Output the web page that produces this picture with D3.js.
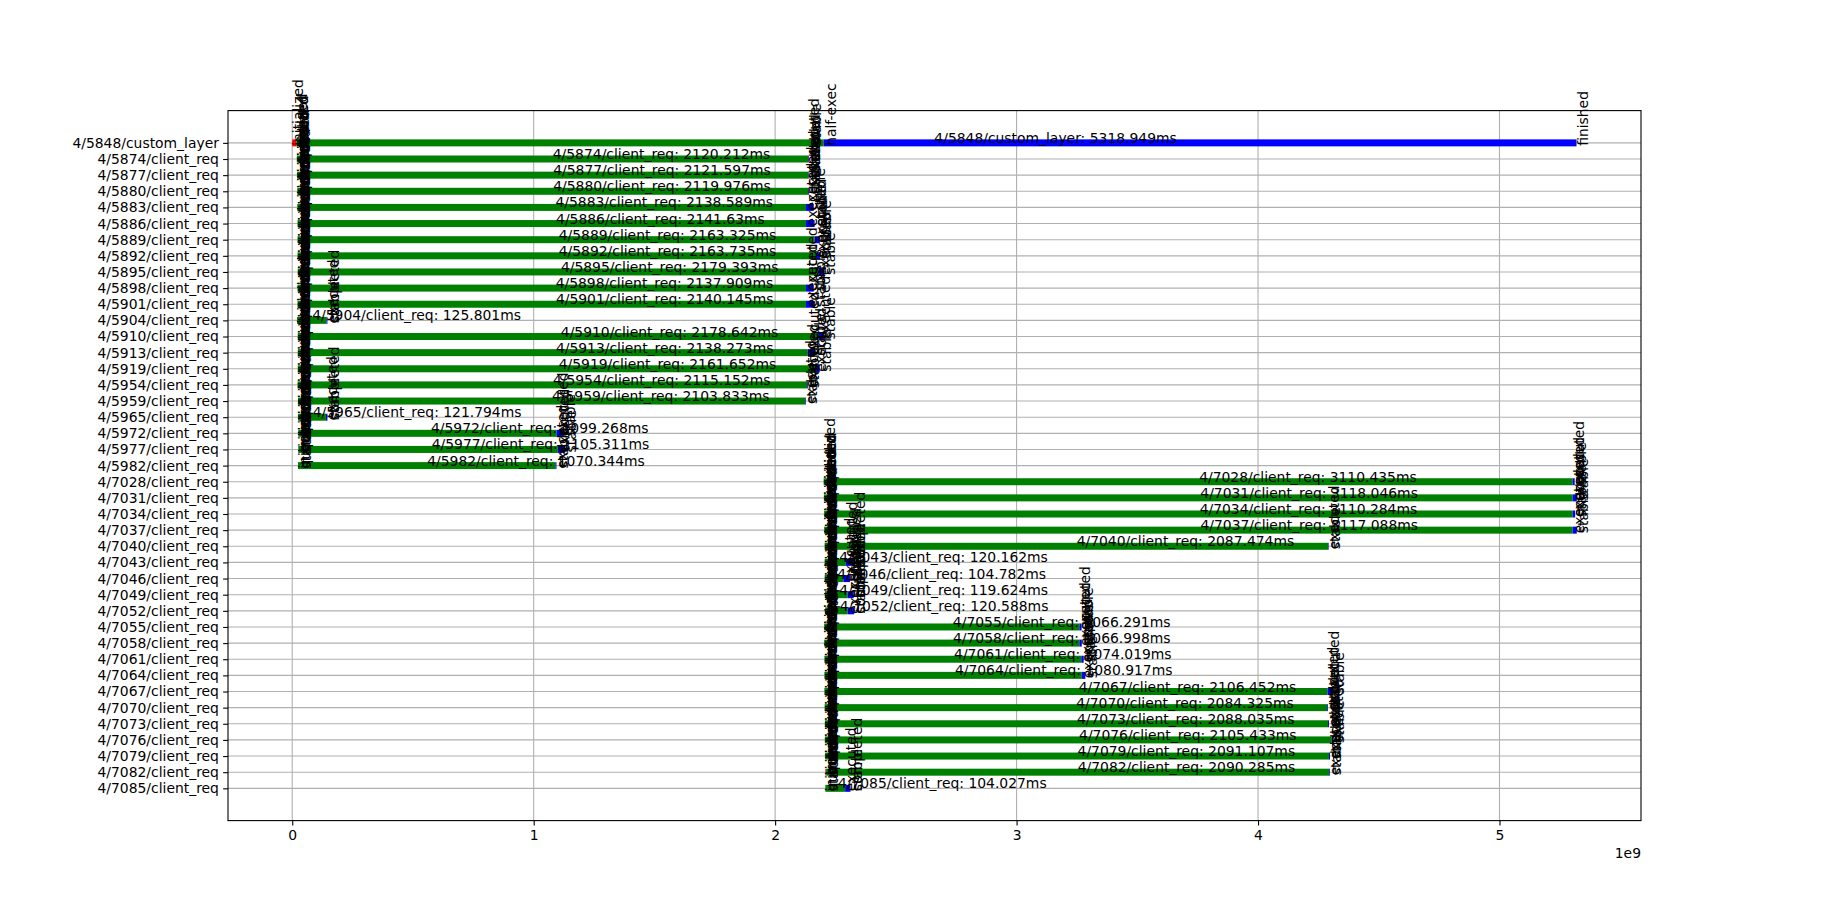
<!DOCTYPE html>
<html><head><meta charset="utf-8">
<script src="https://cdn.jsdelivr.net/npm/d3@7"></script>
<style>
body{margin:0;background:#fff}
text{font-family:"DejaVu Sans",sans-serif;font-size:13.9px;fill:#000}
</style>
</head><body>
<svg id="chart" width="1823" height="922"></svg>
<script>
// ---- data (times in ms) ----
const rowNames = ["4/5848/custom_layer","4/5874/client_req","4/5877/client_req","4/5880/client_req","4/5883/client_req","4/5886/client_req","4/5889/client_req","4/5892/client_req","4/5895/client_req","4/5898/client_req","4/5901/client_req","4/5904/client_req","4/5910/client_req","4/5913/client_req","4/5919/client_req","4/5954/client_req","4/5959/client_req","4/5965/client_req","4/5972/client_req","4/5977/client_req","4/5982/client_req","4/7028/client_req","4/7031/client_req","4/7034/client_req","4/7037/client_req","4/7040/client_req","4/7043/client_req","4/7046/client_req","4/7049/client_req","4/7052/client_req","4/7055/client_req","4/7058/client_req","4/7061/client_req","4/7064/client_req","4/7067/client_req","4/7070/client_req","4/7073/client_req","4/7076/client_req","4/7079/client_req","4/7082/client_req","4/7085/client_req"];
const startMs = [0,19,20,21,21,22,22,22,23,22,22,20,23,23,23,22,24,24,25,25,24,2201,2202,2203,2203,2205,2205,2205,2206,2207,2203,2203,2204,2204,2204,2205,2206,2206,2207,2208,2208];
const queuedEndMs = [17,19,20,21,21,22,22,22,23,22,22,20,23,23,23,22,24,24,25,25,24,2201,2202,2203,2203,2205,2205,2205,2206,2207,2203,2203,2204,2204,2204,2205,2206,2206,2207,2211,2208];
const executedMs = [2201,2136,2138,2137,2128,2128,2163,2170,2180,2128,2128,142,2180,2135,2165,2133,2125,140,1095,1100,1090,5303,5303,5303,5303,4290,2293,2283,2300,2300,3260,3260,3268,3270,4288,4286,4290,4305,4294,4295,2290];
const durationMs = [5318.949,2120.212,2121.597,2119.976,2138.589,2141.63,2163.325,2163.735,2179.393,2137.909,2140.145,125.801,2178.642,2138.273,2161.652,2115.152,2103.833,121.794,1099.268,1105.311,1070.344,3110.435,3118.046,3110.284,3117.088,2087.474,120.162,104.782,119.624,120.588,1066.291,1066.998,1074.019,1080.917,2106.452,2084.325,2088.035,2105.433,2091.107,2090.285,104.027];
const startLabels = ["initialized","queued","started"];
const startLabelOffsetsMs = [0,3,6];
const customLayerEvents = [[0,"initialized"],[17,"queued"],[20,"started"],[2143,"stable"],[2207,"half-exec"],[5318.949,"finished"]];
const xTickValues = [0,1e9,2e9,3e9,4e9,5e9];
const xOffsetLabel = "1e9";
const phaseColors = {queued:"#ff0000",running:"#008000",executed:"#0000ff"};

// ---- layout ----
const svg = d3.select("#chart");
const M = {left:228, right:1641, top:110.6, bottom:820.6};
const endMs = startMs.map((s,i)=>s+durationMs[i]);
const lo = d3.min(startMs), hi = d3.max(endMs), pad = (hi-lo)*0.05;
const x = d3.scaleLinear().domain([(lo-pad)*1e6,(hi+pad)*1e6]).range([M.left,M.right]);
const n = rowNames.length;
const y = d3.scaleLinear().domain([-2,(n-1)+2]).range([M.top,M.bottom]);
const rows = d3.range(n);

svg.append("rect").attr("width",1823).attr("height",922).attr("fill","#fff");

// grid
const grid = svg.append("g").attr("stroke","#b0b0b0").attr("stroke-width",1.1);
grid.selectAll(".vx").data(xTickValues).join("line")
  .attr("x1",d=>x(d)).attr("x2",d=>x(d)).attr("y1",M.top).attr("y2",M.bottom);
grid.selectAll(".hy").data(rows).join("line")
  .attr("x1",M.left).attr("x2",M.right).attr("y1",d=>y(d)).attr("y2",d=>y(d));

// segments
const segs = [];
rows.forEach(i=>{
  const s=startMs[i]*1e6, q=queuedEndMs[i]*1e6, e=executedMs[i]*1e6, f=endMs[i]*1e6;
  if(q>s) segs.push({i,a:s,b:q,c:phaseColors.queued});
  segs.push({i,a:q,b:e,c:phaseColors.running});
  if(f>e) segs.push({i,a:e,b:f,c:phaseColors.executed});
});
svg.append("g").selectAll("rect").data(segs).join("rect")
  .attr("x",d=>x(d.a)).attr("width",d=>Math.max(0,x(d.b)-x(d.a)))
  .attr("y",d=>y(d.i)-3.5).attr("height",7).attr("fill",d=>d.c);

// axes frame
svg.append("rect").attr("x",M.left).attr("y",M.top).attr("width",M.right-M.left).attr("height",M.bottom-M.top)
  .attr("fill","none").attr("stroke","#000").attr("stroke-width",1.1);

const xa = svg.append("g").attr("transform",`translate(0,${M.bottom})`)
  .call(d3.axisBottom(x).tickValues(xTickValues).tickFormat(d=>d/1e9).tickSize(4.9).tickPadding(4.6));
const ya = svg.append("g").attr("transform",`translate(${M.left},0)`)
  .call(d3.axisLeft(y).tickValues(rows).tickFormat(i=>rowNames[i]).tickSize(4.9).tickPadding(4.2));
[xa,ya].forEach(a=>{
  a.select(".domain").remove();
  a.selectAll("line").attr("stroke","#000").attr("stroke-width",1.1);
  a.selectAll("text").attr("font-family","DejaVu Sans").attr("font-size","13.9px").attr("fill","#000");
});
svg.append("text").attr("x",M.right).attr("y",858).attr("text-anchor","end").text(xOffsetLabel);

// event labels (vertical)
const events = [];
rows.forEach(i=>{
  if(i===0){ customLayerEvents.forEach(([t,l])=>events.push({i,t,l})); return; }
  startLabels.forEach((l,k)=>events.push({i,t:startMs[i]+startLabelOffsetsMs[k],l}));
  events.push({i,t:executedMs[i],l:"executed"});
  if(durationMs[i]<200) events.push({i,t:endMs[i],l:"completed"});
  events.push({i,t:endMs[i],l:"stable"});
});
svg.append("g").selectAll("text").data(events).join("text")
  .attr("transform",d=>`translate(${x(d.t*1e6)},${y(d.i)+3}) rotate(-90)`)
  .attr("dy","0.8em").text(d=>d.l);

// duration labels
svg.append("g").selectAll("text").data(rows).join("text")
  .attr("x",i=>x((startMs[i]+endMs[i])/2*1e6)).attr("y",i=>y(i))
  .text(i=>`${rowNames[i]}: ${durationMs[i]}ms`);
</script>
</body></html>
